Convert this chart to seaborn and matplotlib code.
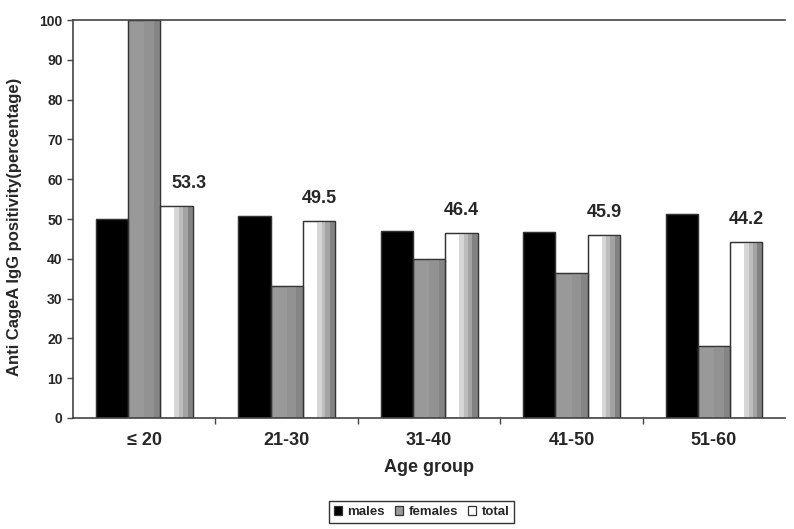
import numpy as np
import pandas as pd
import seaborn as sns
import matplotlib.pyplot as plt
from matplotlib.patches import Rectangle

age_groups = ["\u2264 20", "21-30", "31-40", "41-50", "51-60"]
males = [50.0, 50.8, 47.0, 46.7, 51.2]
females = [100.0, 33.2, 40.0, 36.5, 18.2]
total = [53.3, 49.5, 46.4, 45.9, 44.2]
series_names = ["males", "females", "total"]

df = pd.DataFrame({
    "age": age_groups * 3,
    "value": males + females + total,
    "sex": ["males"] * 5 + ["females"] * 5 + ["total"] * 5,
})

sns.set_style("white")
plt.rcParams["font.family"] = ["Liberation Sans", "DejaVu Sans"]
plt.rcParams["font.weight"] = "bold"

fig = plt.figure(figsize=(7.94, 5.29), dpi=100)
ax = fig.add_axes([0.092, 0.21, 0.897, 0.752])

palette = {"males": "#000000", "females": "#999999", "total": "#ffffff"}
sns.barplot(data=df, x="age", y="value", hue="sex", palette=palette,
            width=0.68, gap=0, edgecolor="#333333", linewidth=0.9,
            saturation=1, ax=ax, legend=True)

# Excel-style shading stripes on the females / total bars
stripes = {
    "females": [(0.5, 0.8, "#929292"), (0.8, 1.0, "#858585")],
    "total": [(0.43, 0.58, "#d6d6d6"), (0.58, 0.70, "#bdbdbd"),
              (0.70, 0.84, "#a3a3a3"), (0.84, 1.0, "#828282")],
}
for cont, name in zip(ax.containers, series_names):
    for p in cont.patches:
        x0, w, h = p.get_x(), p.get_width(), p.get_height()
        for a, b, c in stripes.get(name, []):
            ax.add_patch(Rectangle((x0 + a * w, 0), (b - a) * w, h,
                                   facecolor=c, edgecolor="none", zorder=p.get_zorder()))
        ax.add_patch(Rectangle((x0, 0), w, h, facecolor="none",
                               edgecolor="#333333", linewidth=0.9,
                               zorder=p.get_zorder() + 0.1))

# value labels for total (first one nudged right, as in the original)
label_dx = [9, 0, 0, 0, 0]
tot_cont = ax.containers[2]
for p, v, dx in zip(tot_cont.patches, total, label_dx):
    ax.annotate(f"{v:.1f}", (p.get_x() + p.get_width() * 0.5, p.get_height()),
                xytext=(dx, 13), textcoords="offset points",
                ha="center", va="baseline", fontsize=13, fontweight="bold")

ax.set_ylim(0, 100)
ax.set_xlim(-0.5, 4.5)
ax.set_yticks(np.arange(0, 101, 10))
ax.set_xlabel("Age group", fontsize=13, fontweight="bold", labelpad=7)
ax.set_ylabel("Anti CageA IgG positivity(percentage)", fontsize=12, fontweight="bold")
ax.yaxis.set_label_coords(-0.071, 0.48)
ax.tick_params(axis="y", labelsize=10, length=4, width=1, color="#444444", direction="out", left=True)
ax.tick_params(axis="x", labelsize=13, length=0, pad=10)
ax.set_xticks(np.arange(0.5, 4.5, 1), minor=True)
ax.tick_params(axis="x", which="minor", length=4, width=1, color="#444444", direction="out", bottom=True)
for lab in ax.get_xticklabels() + ax.get_yticklabels():
    lab.set_fontweight("bold")

for s in ["left", "bottom", "top"]:
    ax.spines[s].set_color("#444444")
    ax.spines[s].set_linewidth(1.2)
ax.spines["right"].set_visible(False)

handles, labels = ax.get_legend_handles_labels()
ax.get_legend().remove()
leg = fig.legend(handles, labels, loc="center", bbox_to_anchor=(0.531, 0.032), ncol=3,
                 frameon=True, fancybox=False, edgecolor="#000000",
                 handlelength=0.6, handleheight=0.6, handletextpad=0.4,
                 columnspacing=0.8, borderpad=0.35, borderaxespad=0,
                 prop={"size": 9.5, "weight": "bold"})
leg.get_frame().set_linewidth(1.0)

fig.savefig("out.png", dpi=100)
